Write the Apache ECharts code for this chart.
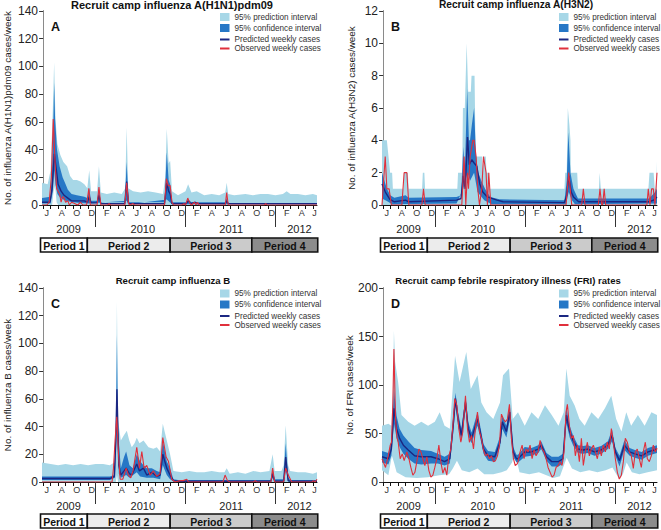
<!DOCTYPE html>
<html>
<head>
<meta charset="utf-8">
<script src="https://cdn.jsdelivr.net/npm/echarts@6/dist/echarts.min.js"></script>
<style>
  html, body { margin: 0; padding: 0; background: #fff; }
  #chart { width: 661px; height: 530px; }
</style>
</head>
<body>
<div id="chart"></div>
<script>
// x values are months since 1 Jun 2009
const monthTicks = [0,1,2,3,4,5,6,7,8,9,10,11,12,13,14,15,16,17,18,19,20,21,22,23,24,25,26,27,28,29,30,31,32,33,34,35,36];
const monthLabelPos = [0.5,2.5,4.5,6.5,8.5,10.5,12.5,14.5,16.5,18.5,20.5,22.5,24.5,26.5,28.5,30.5,32.5,34.5,36.2];
const monthLetters = ['J','A','O','D','F','A','J','A','O','D','F','A','J','A','O','D','F','A','J'];
const yearEdges = [7, 19, 31];
const yearLabelPos = [3.4, 13.3, 25.1, 34.2];
const yearNames = ['2009', '2010', '2011', '2012'];
const periodNames = ['Period 1', 'Period 2', 'Period 3', 'Period 4'];
const periodStart = [-0.35, 5.9, 16.95, 27.85];
const periodEnd = [5.9, 16.95, 27.85, 36.65];
const periodFill = ['#ffffff', '#ececec', '#cbcbcb', '#8c8c8c'];
const legendNames = ['95% prediction interval', '95% confidence interval', 'Predicted weekly cases', 'Observed weekly cases'];

// A: influenza A(H1N1)pdm09
const aPredHi = [[-0.15,16],[0.6,15],[1.0,25],[1.3,70],[1.47,103],[1.65,62],[1.9,44],[2.3,36],[2.7,31],[3.2,28],[3.6,21],[4.0,18],[4.5,18],[5.0,17],[5.5,15],[5.9,12],[6.15,25],[6.4,10],[7.2,10],[7.45,28],[7.7,9],[8.5,8],[9.5,9],[10.5,8],[10.95,12],[11.15,56],[11.35,12],[12,10],[13,9],[14,10],[15,9],[16,8],[16.3,20],[16.5,55],[16.75,30],[16.95,32],[17.2,10],[18,7],[19,10],[19.35,15],[19.8,9],[20.5,10],[21.5,7],[22.5,8],[23.5,7],[24.3,9],[24.5,16],[24.7,8],[25.5,7],[27,8],[28,7],[29,8],[30,8],[31,7],[32,8],[32.5,10],[33,8],[34,8],[35,7],[36,8],[36.55,7]];
const aPredLo = [[-0.15,0],[1.2,0],[1.4,10],[1.6,14],[1.8,2],[2.0,0],[36.55,0]];
const aConfHi = [[-0.15,5],[1.0,6],[1.3,40],[1.47,88],[1.6,62],[1.85,40],[2.2,28],[2.6,20],[3.0,15],[3.3,11],[3.8,8],[4.5,7],[5.5,6],[5.9,5],[6.15,12],[6.4,3],[7.2,3],[7.45,12],[7.7,2],[10.9,2],[11.15,31],[11.4,2],[16.2,2],[16.5,38],[16.75,18],[16.95,15],[17.2,2],[19.1,2],[19.35,4],[19.8,2],[24.3,2],[24.5,5],[24.7,1.5],[36.55,1.5]];
const aConfLo = [[-0.15,1],[1.0,1],[1.3,10],[1.47,25],[1.65,15],[1.9,8],[2.3,5],[3,3],[4,2],[5,1.5],[6,1],[11.15,3],[11.4,0.5],[16.5,4],[17.2,0.5],[36.55,0.5]];
const aPred = [[-0.15,2],[0.9,2],[1.2,12],[1.5,37],[1.7,28],[2.0,15],[2.4,10],[2.8,7],[3.3,5],[3.8,3],[4.5,3],[5.5,3],[5.9,2],[6.15,6],[6.4,1.5],[7.2,1.5],[7.45,7],[7.7,1],[10.9,1],[11.15,17],[11.4,1],[16.2,1],[16.5,16],[16.75,10],[16.95,8],[17.2,1],[19.1,1],[19.35,3],[19.7,1],[20.3,2],[20.6,1],[24.3,1],[24.5,3],[24.7,1],[36.55,1]];
const aObs = [[-0.15,0],[0.5,0],[0.8,2],[1.1,20],[1.35,62],[1.6,30],[1.8,12],[2.0,10],[2.2,8],[2.4,2],[2.6,6],[2.8,5],[3.0,2],[3.3,3],[3.5,0],[3.8,2],[4.2,1],[4.6,0],[5.0,2],[5.3,0],[5.8,0],[6.1,12],[6.3,0],[7.2,0],[7.45,13],[7.7,0],[8.6,0],[8.8,1],[9,0],[10.9,0],[11.15,16],[11.4,1],[11.6,0],[12.0,1],[12.2,0],[16.2,0],[16.45,19],[16.7,14],[16.95,14],[17.2,2],[17.4,0],[18.5,0],[18.8,1],[19.0,0],[19.3,5],[19.6,1],[19.8,0],[20.2,2],[20.4,0],[20.6,2],[20.8,0],[24.3,0],[24.5,9],[24.7,0],[29.5,0],[29.7,1],[29.9,0],[36.55,0]];

// B: influenza A(H3N2)
const bPredHi = [[-0.15,4],[0.5,4],[0.72,3],[0.94,2],[1.2,2],[1.3,1],[2.7,1],[2.8,2],[3.3,2],[3.4,1],[5.2,1],[5.3,2],[5.5,2],[5.6,1],[9.9,1],[10.0,2],[10.55,2],[10.65,6],[10.9,6],[11.15,10],[11.35,7],[11.7,7],[11.8,8],[12.2,8],[12.35,3],[13.2,3],[13.3,2],[13.45,3],[13.7,3],[13.8,2],[14.1,2],[14.2,1],[24.2,1],[24.3,2],[24.5,2],[24.65,6],[24.85,5],[25.0,4],[25.05,2],[25.9,2],[26.0,1],[28.8,1],[28.9,2],[29.05,1],[35.4,1],[35.55,2],[36.1,2],[36.25,1],[36.45,1],[36.55,2.7]];
const bPredLo = [[-0.15,0],[36.55,0]];
const bConfHi = [[-0.15,2],[0.5,1],[0.94,0.6],[1.5,0.45],[3.0,0.6],[3.4,0.45],[9.8,0.5],[10.4,0.6],[10.7,3.6],[10.9,2],[11.22,7.2],[11.45,4],[11.6,4],[11.85,5],[12.14,6],[12.4,3],[12.7,2],[13.1,1.5],[13.6,1],[14.3,0.5],[15.5,0.35],[24.2,0.3],[24.5,1.5],[24.72,4.5],[25.0,2],[25.4,1],[26.0,0.4],[35.5,0.4],[36.3,0.8],[36.55,1]];
const bConfLo = [[-0.15,0.4],[0.5,0.25],[1.2,0.05],[9.8,0.1],[10.7,1],[11.26,2],[11.6,1.5],[12.14,2],[12.6,0.8],[13.5,0.3],[14.5,0.05],[24.4,0.05],[24.77,0.8],[25.2,0.3],[25.6,0.05],[36.55,0.1]];
const bPred = [[-0.15,1.3],[0.3,0.8],[0.9,0.35],[1.5,0.2],[3.0,0.3],[3.4,0.2],[9.8,0.3],[10.4,0.4],[10.7,1.8],[10.95,1.0],[11.26,4.2],[11.5,2.5],[11.83,2.8],[12.14,2.6],[12.5,2.4],[12.9,1.3],[13.3,0.8],[13.9,0.5],[15.2,0.3],[16,0.2],[24.2,0.15],[24.5,0.6],[24.77,1.8],[25.1,0.8],[25.4,0.5],[26.1,0.2],[35.5,0.2],[36.1,0.3],[36.55,0.5]];
const bObs = [[-0.15,0],[0.0,1],[0.28,3],[0.5,1],[0.8,1],[1.1,0],[2.5,0],[2.8,2],[3.17,2],[3.43,0],[5.17,0],[5.39,1],[5.61,0],[10.5,0],[10.81,3],[11.03,0],[11.26,2],[11.39,1],[11.61,3],[11.97,4],[12.14,4],[12.41,3],[12.63,1],[12.86,0],[13.17,1],[13.39,3],[13.74,2],[13.92,0],[14.1,2],[14.37,0],[24.41,0],[24.77,2],[25.17,0],[26.5,0],[26.72,1],[26.94,0],[28.72,0],[28.94,1],[29.17,0],[29.3,0],[29.5,1],[29.7,0],[35.2,0],[35.39,1],[35.61,0],[35.83,1],[36.06,1],[36.28,0],[36.55,2]];

// C: influenza B
const cPredHi = [[-0.15,14],[1,13],[2,12],[3,13],[4,12],[5,13],[6,12],[7,13],[8,13],[8.9,12],[9.5,14],[9.7,40],[9.85,130],[10.0,45],[10.37,30],[10.8,34],[11.17,37],[11.5,30],[11.83,25],[12.2,28],[12.5,32],[12.86,28],[13.4,30],[14.06,25],[14.72,24],[15.17,25],[15.61,22],[15.97,42],[16.28,35],[16.72,25],[16.94,20],[17.39,8],[18.5,7],[19.5,8],[20.5,7],[21.5,7],[22.5,8],[23.5,7],[24.2,7],[24.5,10],[24.9,6],[26,7],[27,6],[28.06,8],[29,7],[30.2,8],[30.63,20],[30.9,8],[31.8,8],[32.1,12],[32.37,41],[32.7,12],[32.94,8],[34,7],[35,7],[36,6],[36.55,7]];
const cPredLo = [[-0.15,0],[9.7,0],[9.85,5],[10.0,0],[36.55,0]];
const cConfHi = [[-0.15,4],[8.9,4],[9.5,5],[9.72,35],[9.85,106],[9.98,38],[10.37,10],[10.8,18],[11.08,22],[11.52,12],[11.97,10],[12.5,20],[12.94,15],[13.39,12],[13.83,10],[14.5,10],[15.17,8],[15.61,7],[15.97,30],[16.5,15],[16.94,10],[17.39,2],[18,1.5],[30.4,1.5],[30.63,10],[30.9,2],[32.1,2],[32.37,28],[32.7,3],[33.0,1.5],[36.55,1.5]];
const cConfLo = [[-0.15,1.5],[8.9,1.5],[9.6,3],[9.85,45],[10.1,6],[10.37,3],[11.08,5],[11.52,3],[12.5,7],[12.94,4],[13.83,3],[14.72,3],[15.61,2],[15.97,12],[16.5,5],[16.94,2],[17.39,0.3],[30.4,0.3],[30.63,3],[30.9,0.3],[32.2,0.3],[32.37,10],[32.7,0.3],[36.55,0.3]];
const cPred = [[-0.15,2.5],[8.9,2.5],[9.5,4],[9.7,30],[9.85,67],[10.1,12],[10.37,5],[10.8,8],[11.08,10],[11.52,6],[11.83,5],[12.5,13],[12.86,8],[13.39,10],[13.83,5],[14.5,7],[15.17,4],[15.6,5],[15.97,20],[16.5,10],[16.94,5],[17.39,1],[18,0.5],[30.4,0.5],[30.63,6],[30.9,0.5],[32.1,0.5],[32.37,18],[32.7,1],[33.0,0.5],[36.55,0.5]];
const cObs = [[-0.15,0],[9.2,0],[9.39,10],[9.6,30],[9.83,47],[10.06,20],[10.28,2],[10.63,2],[11.08,10],[11.39,5],[11.7,3],[12.0,8],[12.5,25],[12.86,10],[13.17,22],[13.48,10],[13.83,12],[14.28,5],[14.72,8],[15.17,4],[15.6,6],[15.97,32],[16.42,18],[16.72,15],[17.17,2],[17.61,0],[18.28,1],[18.7,1],[19.17,2],[19.4,0],[24.0,0],[24.28,5],[24.6,1],[24.94,0],[28.06,0],[28.3,1],[28.5,0],[30.4,0],[30.63,10],[30.9,0],[32.1,0],[32.37,10],[32.72,5],[33.17,0],[35.9,0],[36.06,1],[36.3,0],[36.55,2]];

// D: febrile respiratory illness
const dPredHi = [[-0.15,58],[0.7,60],[1.1,58],[1.3,90],[1.44,156],[1.6,124],[2.0,103],[2.45,69],[3.35,62],[4.2,58],[5.1,62],[6.0,58],[6.9,62],[7.55,72],[8.2,58],[8.9,55],[9.6,130],[10.2,103],[11.1,134],[11.7,96],[12.6,110],[13.1,82],[13.8,72],[14.7,65],[15.6,82],[16.0,110],[16.8,117],[17.3,65],[18.0,72],[18.9,58],[19.8,72],[20.7,65],[21.6,79],[22.5,69],[23.4,58],[24.1,72],[24.45,117],[24.9,89],[25.55,79],[26.2,65],[26.9,58],[27.8,72],[28.7,65],[29.6,76],[30.45,89],[31.1,65],[31.8,52],[32.45,72],[33.1,58],[34.0,69],[34.9,58],[35.8,72],[36.55,69]];
const dPredLo = [[-0.15,12],[0.7,7],[1.17,27],[1.45,20],[1.8,10],[3.0,5],[4.5,4],[6.0,5],[7.5,7],[8.8,8],[9.3,14],[9.85,22],[10.5,12],[11.5,10],[12.6,14],[13.5,8],[14.7,8],[15.8,10],[16.5,12],[17.2,20],[17.6,30],[18.2,10],[19.5,8],[20.8,10],[21.8,7],[22.7,4],[23.6,6],[24.5,25],[25.2,14],[26.3,10],[27.5,12],[28.6,10],[29.7,12],[30.6,15],[31.5,3],[32.0,8],[32.5,20],[33.2,10],[34.2,8],[35.3,10],[36.55,12]];
const dConfHi = [[-0.15,32],[0.7,30],[1.1,42],[1.45,95],[1.8,68],[2.2,55],[2.7,48],[3.35,42],[4.2,35],[5.1,33],[6.4,32],[7.3,29],[8.2,26],[8.9,29],[9.35,68],[9.65,92],[10.0,72],[10.45,55],[11.0,89],[11.35,62],[11.8,51],[12.6,72],[12.95,58],[13.4,39],[14.0,32],[14.9,31],[15.6,47],[15.9,68],[16.45,58],[16.9,80],[17.35,36],[17.8,28],[18.0,28],[18.9,36],[19.8,35],[20.7,38],[21.1,42],[21.8,30],[22.5,26],[23.4,26],[24.0,29],[24.45,77],[24.9,58],[25.35,48],[26.0,38],[26.7,37],[27.3,38],[28.2,35],[29.1,37],[30.0,42],[30.55,54],[31.0,35],[31.55,27],[32.2,43],[32.9,35],[33.6,33],[34.5,31],[35.35,35],[36.2,37],[36.55,38]];
const dConfLo = [[-0.15,20],[0.7,18],[1.1,27],[1.45,60],[1.8,45],[2.2,36],[2.7,29],[3.35,24],[4.2,19],[5.1,18],[6.4,19],[7.3,19],[8.2,17],[8.9,19],[9.35,50],[9.65,78],[10.0,58],[10.45,42],[11.0,75],[11.35,48],[11.8,40],[12.6,58],[12.95,46],[13.4,29],[14.0,22],[14.9,21],[15.6,36],[15.9,55],[16.45,46],[16.9,64],[17.35,26],[17.8,20],[18.0,20],[18.9,26],[19.8,27],[20.7,30],[21.1,34],[21.8,22],[22.5,16],[23.4,16],[24.0,19],[24.45,61],[24.9,46],[25.35,38],[26.0,30],[26.7,29],[27.3,30],[28.2,27],[29.1,29],[30.0,34],[30.55,42],[31.0,27],[31.55,16],[32.2,33],[32.9,27],[33.6,25],[34.5,23],[35.35,27],[36.2,29],[36.55,30]];
const dPred = [[-0.15,26],[0.7,24],[1.1,34],[1.45,76],[1.8,55],[2.2,45],[2.7,38],[3.35,33],[4.2,27],[5.1,26],[6.4,26],[7.3,24],[8.2,21],[8.9,24],[9.35,58],[9.65,86],[10.0,65],[10.45,48],[11.0,82],[11.35,55],[11.8,45],[12.6,65],[12.95,52],[13.4,34],[14.0,27],[14.9,26],[15.6,41],[15.9,62],[16.45,52],[16.9,72],[17.35,31],[17.8,24],[18.0,24],[18.9,31],[19.8,31],[20.7,34],[21.1,38],[21.8,26],[22.5,21],[23.4,21],[24.0,24],[24.45,69],[24.9,52],[25.35,43],[26.0,34],[26.7,33],[27.3,34],[28.2,31],[29.1,33],[30.0,38],[30.55,48],[31.0,31],[31.55,22],[32.2,38],[32.9,31],[33.6,29],[34.5,27],[35.35,31],[36.2,33],[36.55,34]];
const dObs = [[-0.15,24],[0.32,15],[0.68,27],[0.95,38],[1.12,41],[1.3,82],[1.44,137],[1.66,65],[1.84,46],[2.01,41],[2.28,24],[2.55,29],[2.81,22],[3.17,31],[3.44,24],[3.7,15],[3.97,7],[4.24,10],[4.5,21],[4.77,34],[5.04,31],[5.3,24],[5.57,17],[5.84,26],[6.1,12],[6.37,5],[6.64,7],[6.9,15],[7.17,24],[7.44,38],[7.7,21],[7.97,9],[8.24,15],[8.5,7],[8.77,27],[9.04,34],[9.3,58],[9.57,86],[9.84,79],[10.1,55],[10.37,41],[10.64,52],[10.99,89],[11.26,55],[11.52,41],[11.79,48],[12.06,34],[12.32,55],[12.59,72],[12.86,52],[13.12,45],[13.39,33],[13.65,27],[13.92,29],[14.19,24],[14.46,27],[14.72,21],[14.99,22],[15.26,27],[15.52,38],[15.79,70],[16.06,65],[16.32,62],[16.59,65],[16.86,80],[17.12,45],[17.39,24],[17.63,17],[17.92,19],[18.01,21],[18.28,31],[18.55,38],[18.81,24],[19.08,34],[19.35,31],[19.61,38],[19.88,24],[20.15,33],[20.41,27],[20.68,31],[20.95,43],[21.21,34],[21.48,31],[21.75,24],[22.01,15],[22.28,10],[22.55,5],[22.81,7],[23.08,15],[23.35,17],[23.61,21],[23.88,17],[24.15,31],[24.41,72],[24.59,80],[24.86,58],[25.12,45],[25.39,48],[25.65,27],[25.92,38],[26.19,21],[26.46,45],[26.72,17],[26.99,31],[27.26,41],[27.52,27],[27.79,34],[28.06,38],[28.32,31],[28.59,24],[28.86,36],[29.12,27],[29.39,38],[29.66,31],[29.92,41],[30.19,34],[30.46,55],[30.72,41],[30.99,24],[31.26,10],[31.52,3],[31.79,7],[32.06,21],[32.32,45],[32.59,41],[32.86,31],[33.12,27],[33.39,14],[33.66,31],[33.92,34],[34.19,24],[34.46,15],[34.72,31],[34.99,41],[35.26,24],[35.53,21],[35.79,27],[36.06,38],[36.32,31],[36.55,35]];

const panels = [
  { letter: 'A', title: 'Recruit camp influenza A(H1N1)pdm09', titleSize: 11, yName: 'No. of influenza A(H1N1)pdm09 cases/week',
    yMax: 140, yStep: 20, left: 42, top: 11, titleX: 172, titleY: -1, nameGap: 30, periodTop: 238, legendLeft: 220, legendTop: 13,
    predHi: aPredHi, predLo: aPredLo, confHi: aConfHi, confLo: aConfLo, pred: aPred, obs: aObs },
  { letter: 'B', title: 'Recruit camp influenza A(H3N2)', titleSize: 10.2, yName: 'No. of influenza A(H3N2) cases/week',
    yMax: 12, yStep: 2, left: 382, top: 11, titleX: 516, titleY: -1, nameGap: 26, periodTop: 238, legendLeft: 559, legendTop: 13,
    predHi: bPredHi, predLo: bPredLo, confHi: bConfHi, confLo: bConfLo, pred: bPred, obs: bObs },
  { letter: 'C', title: 'Recruit camp influenza B', titleSize: 9.6, yName: 'No. of influenza B cases/week',
    yMax: 140, yStep: 20, left: 42, top: 288, titleX: 173, titleY: 275, nameGap: 30, periodTop: 514, legendLeft: 220, legendTop: 289.5,
    predHi: cPredHi, predLo: cPredLo, confHi: cConfHi, confLo: cConfLo, pred: cPred, obs: cObs },
  { letter: 'D', title: 'Recruit camp febrile respiratory illness (FRI) rates', titleSize: 9.5, yName: 'No. of FRI cases/week',
    yMax: 200, yStep: 50, left: 382, top: 288, titleX: 508, titleY: 275, nameGap: 26, periodTop: 514, legendLeft: 559, legendTop: 289.5,
    predHi: dPredHi, predLo: dPredLo, confHi: dConfHi, confLo: dConfLo, pred: dPred, obs: dObs }
];

const xMin = -0.15, xMax = 36.55;
const plotW = 275, plotH = 194, periodH = 14;
const FONT = 'Liberation Sans, Arial, Helvetica, sans-serif';
const C_PRED_BAND = '#a7d7e7', C_CONF_BAND = '#2677c6', C_PRED = '#1b2782', C_OBS = '#e0303c';

function pick(list, pos, v) {
  const i = pos.findIndex(p => Math.abs(p - v) < 0.01);
  return i < 0 ? '' : list[i];
}

function bandRender(hi, lo) {
  return function (params, api) {
    const pts = hi.map(p => api.coord(p)).concat(lo.slice().reverse().map(p => api.coord(p)));
    return { type: 'polygon', shape: { points: pts }, style: { fill: api.visual('color') } };
  };
}

function periodRender(params, api) {
  const i = params.dataIndex;
  const p0 = api.coord([api.value(0), 1]);
  const p1 = api.coord([api.value(1), 0]);
  return {
    type: 'group',
    children: [
      { type: 'rect', shape: { x: p0[0], y: p0[1], width: p1[0] - p0[0], height: p1[1] - p0[1] },
        style: { fill: periodFill[i], stroke: '#111', lineWidth: 1.6 } },
      { type: 'text', style: { text: periodNames[i], x: (p0[0] + p1[0]) / 2, y: (p0[1] + p1[1]) / 2 + 0.5,
        align: 'center', verticalAlign: 'middle', fontSize: 10.5, fontWeight: 'bold', fontFamily: FONT, fill: '#111' } }
    ]
  };
}

const grid = [], xAxis = [], yAxis = [], series = [], title = [], legend = [];
const legendText = { fontSize: 8.2, color: '#333', fontFamily: FONT };

panels.forEach((p, i) => {
  const g = i * 2;
  grid.push({ left: p.left, top: p.top, width: plotW, height: plotH });
  grid.push({ left: p.left, top: p.periodTop, width: plotW, height: periodH });

  title.push({ text: p.title, left: p.titleX, top: p.titleY, textAlign: 'center', padding: 0,
    textStyle: { fontSize: p.titleSize, fontWeight: 'bold', color: '#111', fontFamily: FONT } });
  title.push({ text: p.letter, left: p.left + 4, top: p.top + 4,
    textStyle: { fontSize: 12.5, fontWeight: 'bold', color: '#111', fontFamily: FONT } });

  // interval entries
  legend.push({
    left: p.legendLeft, top: p.legendTop, orient: 'vertical', itemWidth: 9.5, itemHeight: 8, itemGap: 3,
    padding: 0, selectedMode: false, textStyle: legendText,
    data: [{ name: legendNames[0], icon: 'rect' }, { name: legendNames[1], icon: 'rect' }]
  });
  // line entries
  legend.push({
    left: p.legendLeft, top: p.legendTop + 22.5, orient: 'vertical', itemWidth: 9.5, itemHeight: 2, itemGap: 1,
    padding: 0, selectedMode: false, textStyle: legendText,
    data: [{ name: legendNames[2], icon: 'rect' }, { name: legendNames[3], icon: 'rect' }]
  });

  // month axis (data axis)
  xAxis.push({
    type: 'value', gridIndex: g, min: xMin, max: xMax, position: 'bottom',
    axisLine: { show: true, onZero: false, lineStyle: { color: '#111', width: 1 } },
    axisTick: { show: true, customValues: monthTicks, length: 4, lineStyle: { color: '#111' } },
    axisLabel: { customValues: monthLabelPos, formatter: v => pick(monthLetters, monthLabelPos, v),
      fontSize: 9, color: '#333', margin: 3, fontFamily: FONT },
    splitLine: { show: false }
  });
  // year axis, moved down onto the bottom edge
  xAxis.push({
    type: 'value', gridIndex: g, min: xMin, max: xMax, position: 'top', offset: -plotH,
    axisLine: { show: false },
    axisTick: { show: true, inside: true, customValues: yearEdges, length: 22, lineStyle: { color: '#333' } },
    axisLabel: { inside: true, customValues: yearLabelPos, formatter: v => pick(yearNames, yearLabelPos, v),
      fontSize: 11, color: '#222', margin: 18, fontFamily: FONT },
    splitLine: { show: false }
  });
  // period bar axis
  xAxis.push({ type: 'value', gridIndex: g + 1, min: xMin, max: xMax, show: false });

  yAxis.push({
    type: 'value', gridIndex: g, min: 0, max: p.yMax, interval: p.yStep,
    name: p.yName, nameLocation: 'middle', nameGap: p.nameGap,
    nameTextStyle: { fontSize: 9.9, color: '#222', fontFamily: FONT },
    axisLine: { show: true, lineStyle: { color: '#333' } },
    axisTick: { show: true, length: 4, lineStyle: { color: '#333' } },
    axisLabel: { fontSize: 12, color: '#222', margin: 4, fontFamily: FONT },
    splitLine: { show: false }
  });
  yAxis.push({
    type: 'value', gridIndex: g, min: 0, max: p.yMax, position: 'right',
    axisLine: { show: true, lineStyle: { color: '#8a8a8a' } },
    axisTick: { show: false }, axisLabel: { show: false }, splitLine: { show: false }
  });
  yAxis.push({ type: 'value', gridIndex: g + 1, min: 0, max: 1, show: false });

  const xi = i * 3, yi = i * 3;
  series.push({
    name: legendNames[0], type: 'custom', xAxisIndex: xi, yAxisIndex: yi, clip: true,
    itemStyle: { color: C_PRED_BAND }, renderItem: bandRender(p.predHi, p.predLo),
    data: [p.predHi[0]], silent: true
  });
  series.push({
    name: legendNames[1], type: 'custom', xAxisIndex: xi, yAxisIndex: yi, clip: true,
    itemStyle: { color: C_CONF_BAND }, renderItem: bandRender(p.confHi, p.confLo),
    data: [p.confHi[0]], silent: true
  });
  series.push({
    name: legendNames[2], type: 'line', xAxisIndex: xi, yAxisIndex: yi, symbol: 'none',
    lineStyle: { color: C_PRED, width: 1.4 }, itemStyle: { color: C_PRED }, data: p.pred, silent: true
  });
  series.push({
    name: legendNames[3], type: 'line', xAxisIndex: xi, yAxisIndex: yi, symbol: 'none',
    lineStyle: { color: C_OBS, width: 1.1 }, itemStyle: { color: C_OBS }, data: p.obs, silent: true
  });
  series.push({
    name: 'periods', type: 'custom', xAxisIndex: xi + 2, yAxisIndex: yi + 2, renderItem: periodRender,
    data: periodStart.map((s, k) => [s, periodEnd[k]]), silent: true
  });
});

const chart = echarts.init(document.getElementById('chart'), null, { renderer: 'svg' });
chart.setOption({
  backgroundColor: '#fff',
  animation: false,
  textStyle: { fontFamily: FONT },
  title, legend, grid, xAxis, yAxis, series
});
</script>
</body>
</html>
